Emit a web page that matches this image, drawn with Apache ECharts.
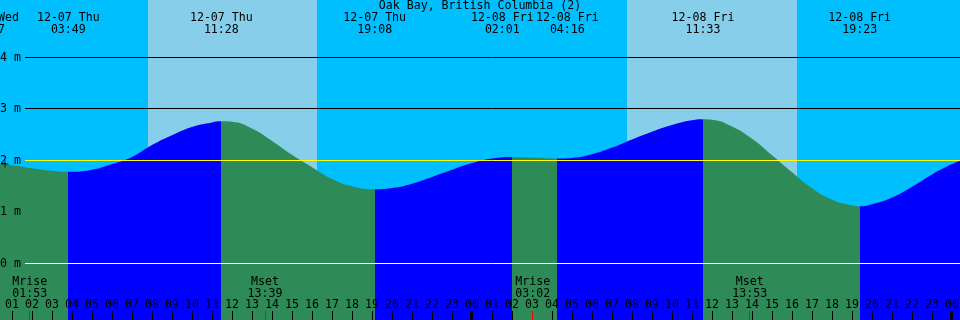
<!DOCTYPE html>
<html>
<head>
<meta charset="utf-8">
<title>Oak Bay, British Columbia (2)</title>
<script src="https://cdn.jsdelivr.net/npm/echarts@6/dist/echarts.min.js"></script>
<style>
  html, body { margin: 0; padding: 0; background: #00BFFF; }
  #chart { width: 960px; height: 320px; }
</style>
</head>
<body>
<div id="chart"></div>
<script>
// all times are hours counted from 12-08 00:00
const tideHours = [-24.22, -23, -22, -21, -20.18, -19, -18, -17, -16, -15, -14, -13, -12.53,
  -12, -11, -10, -9, -8, -7, -6, -4.87, -4, -3, -2, -1, 0, 1, 2.02, 3, 4.27,
  5, 6, 7, 8, 9, 10, 11, 11.55, 12, 13, 14, 15, 16, 17, 18, 19, 19.38,
  20, 21, 22, 23, 24, 24.4];
const tideLevels = [1.95, 1.91, 1.85, 1.80, 1.78, 1.82, 1.93, 2.07, 2.30, 2.49, 2.65, 2.74, 2.76,
  2.75, 2.62, 2.38, 2.11, 1.87, 1.64, 1.50, 1.44, 1.465, 1.55, 1.68, 1.82, 1.95, 2.04, 2.07, 2.06, 2.04,
  2.05, 2.12, 2.25, 2.41, 2.56, 2.69, 2.78, 2.80, 2.79, 2.66, 2.42, 2.10, 1.77, 1.46, 1.24, 1.13, 1.11,
  1.15, 1.28, 1.49, 1.73, 1.93, 1.99];

// high / low tide events
const eventHours = [-24.22, -20.183, -12.533, -4.867, 2.017, 4.267, 11.55, 19.383];
const eventKinds = ['high', 'low', 'high', 'low', 'high', 'low', 'high', 'low'];
const eventDates = ['12-06 Wed', '12-07 Thu', '12-07 Thu', '12-07 Thu', '12-08 Fri', '12-08 Fri', '12-08 Fri', '12-08 Fri'];
const eventTimes = ['23:47', '03:49', '11:28', '19:08', '02:01', '04:16', '11:33', '19:23'];

// moon rise / set
const moonHours = [-22.117, -10.35, 3.033, 13.883];
const moonNames = ['Mrise', 'Mset', 'Mrise', 'Mset'];
const moonTimes = ['01:53', '13:39', '03:02', '13:53'];

// daylight
const sunriseHours = [-16.22, 7.77];
const sunsetHours = [-7.75, 16.23];

const hourLabels = ['00', '01', '02', '03', '04', '05', '06', '07', '08', '09', '10', '11',
  '12', '13', '14', '15', '16', '17', '18', '19', '20', '21', '22', '23'];
const midnightHours = [0, 24];
const levelLabels = [0, 1, 2, 3, 4];
const gridLevels = [4, 3, 1];
const nowMark = [-23.35, 1.93];

const tickHours = [];
for (let h = -23; h <= 24; h++) tickHours.push(h);

const FONT = 'DejaVu Sans Mono';
const FS = 11.6;
const FLOOD = '#0000FF';
const EBB = '#2E8B57';
const yMin = -1.0971, yMax = 5.1165;

function textEl(x, y, text) {
  return {
    type: 'text', x: x, y: y,
    style: { text: text, fill: '#000', font: FS + 'px "' + FONT + '"', align: 'center', verticalAlign: 'middle' }
  };
}

// push neighbouring labels apart so they do not overlap
function spreadLabels(xs, minGap) {
  const out = xs.slice();
  for (let k = 0; k < out.length - 1; k++) {
    const gap = out[k + 1] - out[k];
    if (gap < minGap) {
      const d = (minGap - gap) / 2;
      out[k] -= d;
      out[k + 1] += d;
    }
  }
  return out;
}

function hlineRenderer(color) {
  return function (params, api) {
    const cs = params.coordSys;
    const y = Math.round(api.coord([0, api.value(1)])[1] - 0.5) + 0.5;
    return { type: 'line', shape: { x1: cs.x, y1: y, x2: cs.x + cs.width, y2: y }, style: { stroke: color, lineWidth: 1 } };
  };
}

function tickRenderer(color, width) {
  return function (params, api) {
    const p = api.coord([api.value(0), yMin]);
    const x = width === 1 ? Math.floor(p[0]) + 0.5 : Math.round(p[0]) - 0.5;
    return { type: 'line', shape: { x1: x, y1: p[1] - 9, x2: x, y2: p[1] }, style: { stroke: color, lineWidth: width } };
  };
}

// flood / ebb colouring between the extremes
const pieces = [{ lt: eventHours[0], color: eventKinds[0] === 'high' ? FLOOD : EBB }];
eventHours.forEach(function (h, i) {
  const piece = { gte: h, color: eventKinds[i] === 'high' ? EBB : FLOOD };
  if (i < eventHours.length - 1) piece.lt = eventHours[i + 1];
  pieces.push(piece);
});

const chart = echarts.init(document.getElementById('chart'));

chart.setOption({
  animation: false,
  backgroundColor: '#00BFFF',
  title: {
    text: 'Oak Bay, British Columbia (2)',
    left: 'center', top: 0, padding: 0,
    textStyle: { fontFamily: FONT, fontSize: FS, fontWeight: 'normal', color: '#000' }
  },
  grid: [
    { left: 0, right: 0, top: 0, bottom: 0, outerBoundsMode: 'none' },
    { left: 25, right: 0, top: 0, bottom: 0, outerBoundsMode: 'none' }
  ],
  xAxis: [
    {
      gridIndex: 0, type: 'value', min: -23.6, max: 24.4, z: 10,
      axisLine: { show: false, onZero: false },
      splitLine: { show: false },
      axisTick: { show: true, inside: true, length: 9, customValues: tickHours, lineStyle: { color: '#000', width: 1 } },
      axisLabel: {
        inside: true, margin: 9, customValues: tickHours,
        formatter: function (v) { return hourLabels[((v % 24) + 24) % 24]; },
        color: '#000', fontFamily: FONT, fontSize: FS
      }
    },
    { gridIndex: 1, type: 'value', min: 0, max: 1, show: false }
  ],
  yAxis: [
    { gridIndex: 0, type: 'value', min: yMin, max: yMax, show: false },
    {
      gridIndex: 1, type: 'value', min: yMin, max: yMax, z: 10,
      axisLine: { show: false }, axisTick: { show: false }, splitLine: { show: false },
      axisLabel: {
        customValues: levelLabels, margin: 4,
        formatter: function (v) { return v + ' m'; },
        color: '#000', fontFamily: FONT, fontSize: FS
      }
    }
  ],
  visualMap: { show: false, type: 'piecewise', dimension: 0, seriesIndex: 2, pieces: pieces },
  series: [
    {
      // daylight bands
      type: 'custom', xAxisIndex: 0, yAxisIndex: 0, z: 1, silent: true,
      data: sunriseHours.map(function (s, i) { return [s, sunsetHours[i]]; }),
      renderItem: function (params, api) {
        const cs = params.coordSys;
        const x1 = Math.round(api.coord([api.value(0), 0])[0]);
        const x2 = Math.round(api.coord([api.value(1), 0])[0]);
        return { type: 'rect', shape: { x: x1, y: cs.y, width: x2 - x1, height: cs.height }, style: { fill: '#87CEEB' } };
      }
    },
    {
      type: 'custom', xAxisIndex: 1, yAxisIndex: 1, z: 2, silent: true,
      data: gridLevels.map(function (v) { return [0, v]; }),
      renderItem: hlineRenderer('#000')
    },
    {
      name: 'tide', type: 'line', xAxisIndex: 0, yAxisIndex: 0, z: 3, silent: true,
      data: tideHours.map(function (h, i) { return [h, tideLevels[i]]; }),
      smooth: 0.5, symbol: 'none',
      lineStyle: { width: 0, opacity: 0 },
      areaStyle: { opacity: 1, origin: 'start' }
    },
    {
      type: 'custom', xAxisIndex: 1, yAxisIndex: 1, z: 4, silent: true,
      data: [[0, 2]],
      renderItem: hlineRenderer('#FFFF00')
    },
    {
      type: 'custom', xAxisIndex: 1, yAxisIndex: 1, z: 4, silent: true,
      data: [[0, 0]],
      renderItem: hlineRenderer('#FFFFFF')
    },
    {
      type: 'scatter', xAxisIndex: 0, yAxisIndex: 0, z: 5, silent: true,
      data: [nowMark],
      symbol: 'path://M3,0H4V3H7V4H4V7H3V4H0V3H3Z', symbolSize: 7,
      itemStyle: { color: '#000' }
    },
    {
      // tide event labels
      type: 'custom', xAxisIndex: 0, yAxisIndex: 0, z: 6, silent: true,
      data: eventHours.map(function (h) { return [h, 0]; }),
      renderItem: function (params, api) {
        const xs = spreadLabels(eventHours.map(function (h) { return api.coord([h, 0])[0]; }), 65);
        const i = params.dataIndex;
        return { type: 'group', children: [textEl(xs[i], 17.5, eventDates[i]), textEl(xs[i], 29.8, eventTimes[i])] };
      }
    },
    {
      // moon labels
      type: 'custom', xAxisIndex: 0, yAxisIndex: 0, z: 6, silent: true,
      data: moonHours.map(function (h) { return [h, 0]; }),
      renderItem: function (params, api) {
        const i = params.dataIndex;
        const x = api.coord([moonHours[i], 0])[0];
        return { type: 'group', children: [textEl(x, 282.2, moonNames[i]), textEl(x, 293.6, moonTimes[i])] };
      }
    },
    {
      type: 'custom', xAxisIndex: 0, yAxisIndex: 0, z: 11, silent: true,
      data: midnightHours.map(function (h) { return [h, 0]; }),
      renderItem: tickRenderer('#000', 3)
    },
    {
      type: 'custom', xAxisIndex: 0, yAxisIndex: 0, z: 11, silent: true,
      data: moonHours.map(function (h) { return [h, 0]; }),
      renderItem: tickRenderer('#FF0000', 1)
    }
  ]
});
</script>
</body>
</html>
